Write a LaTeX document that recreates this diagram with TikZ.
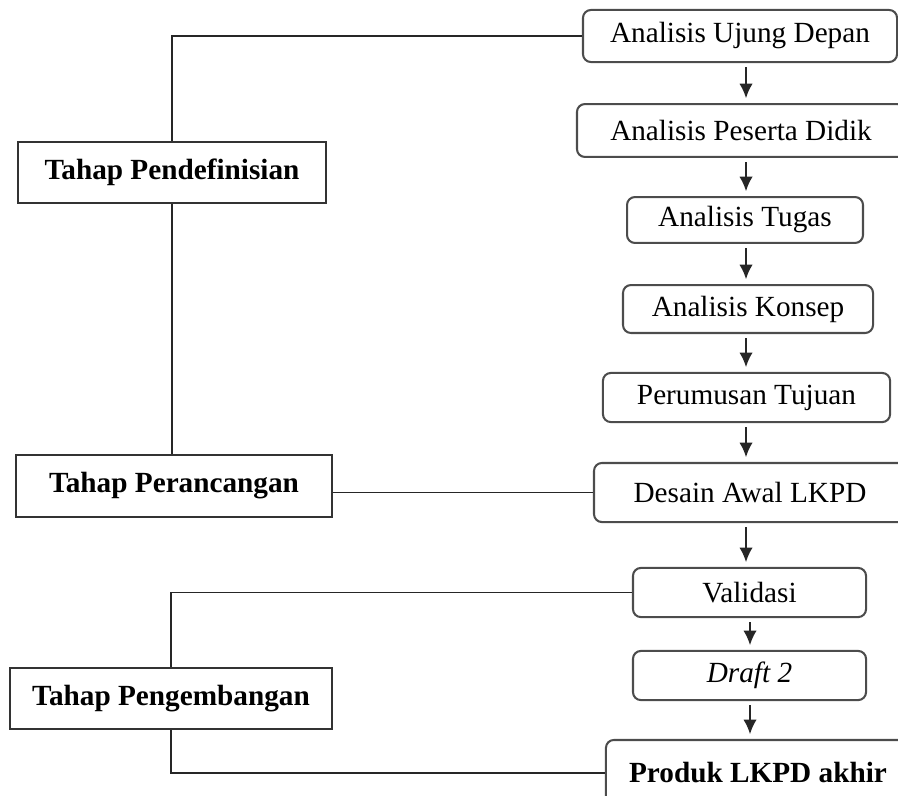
\documentclass[tikz,border=0pt]{standalone}
\usepackage{fontspec}
\setmainfont{Liberation Serif}
\usetikzlibrary{arrows.meta}

\tikzset{
  arr/.style={line width=0.75pt,-{Latex[length=5pt,width=4.6pt]},shorten <=1.4pt,shorten >=1.6pt},
}

\begin{document}
\begin{tikzpicture}[x=0.342pt,y=-0.342pt,line width=0.65pt]

      \clip (0,0) rectangle (898,795);

      % langkah-langkah (kanan)
      \begin{scope}[every node/.style={draw=black!70,line width=0.7pt,rounded corners=2.7pt,inner sep=0pt,font=\fontsize{10}{12}\selectfont}]
        \node[minimum width=107.4pt,minimum height=17.8pt] (ud) at (740,36)    {Analisis Ujung Depan};
        \node[minimum width=112.2pt,minimum height=18.1pt] (pd) at (741,130.5) {Analisis Peserta Didik};
        \node[minimum width=80.7pt,minimum height=15.7pt]  (at) at (745,220)   {Analisis Tugas};
        \node[minimum width=85.5pt,minimum height=16.4pt]  (ak) at (748,309)   {Analisis Konsep};
        \node[minimum width=98.2pt,minimum height=16.8pt]  (pt) at (746.5,397.5) {Perumusan Tujuan};
        \node[minimum width=106.7pt,minimum height=20.2pt] (da) at (750,492.5) {Desain Awal LKPD};
        \node[minimum width=79.7pt,minimum height=16.8pt]  (va) at (749.5,592.5) {Validasi};
        \node[minimum width=79.7pt,minimum height=16.8pt]  (dr) at (749.5,675.5) {\itshape Draft 2};
        \node[minimum width=104pt,minimum height=22.6pt]   (pr) at (758,773)   {\bfseries Produk LKPD akhir};
      \end{scope}

      % tahap (kiri)
      \begin{scope}[every node/.style={draw=black!80,line width=0.7pt,inner sep=0pt,font=\fontsize{10}{12}\selectfont\bfseries}]
        \node[minimum width=105.3pt,minimum height=20.9pt] (pend)  at (172,172.5) {Tahap Pendefinisian};
        \node[minimum width=108.1pt,minimum height=21.2pt] (peran) at (174,486)   {Tahap Perancangan};
        \node[minimum width=110.1pt,minimum height=20.9pt] (peng)  at (171,698.5) {Tahap Pengembangan};
      \end{scope}

      \coordinate (c1) at (746,0);
      \coordinate (c2) at (750,0);

      \begin{scope}[draw=black!85]
        \draw[arr] (ud.south -| c1) -- (pd.north -| c1);
        \draw[arr] (pd.south -| c1) -- (at.north -| c1);
        \draw[arr] (at.south -| c1) -- (ak.north -| c1);
        \draw[arr] (ak.south -| c1) -- (pt.north -| c1);
        \draw[arr] (pt.south -| c1) -- (da.north -| c1);
        \draw[arr] (da.south -| c1) -- (va.north -| c1);
        \draw[arr] (va.south -| c2) -- (dr.north -| c2);
        \draw[arr] (dr.south -| c2) -- (pr.north -| c2);

        \draw (ud.west) -| (pend.north);
        \draw (pend.south) -- (pend.south |- peran.north);
        \draw (da.west) -- (da.west -| peran.east);
        \draw (va.west) -| (peng.north);
        \draw (peng.south) |- (pr.west);
      \end{scope}

    \end{tikzpicture}
\end{document}
